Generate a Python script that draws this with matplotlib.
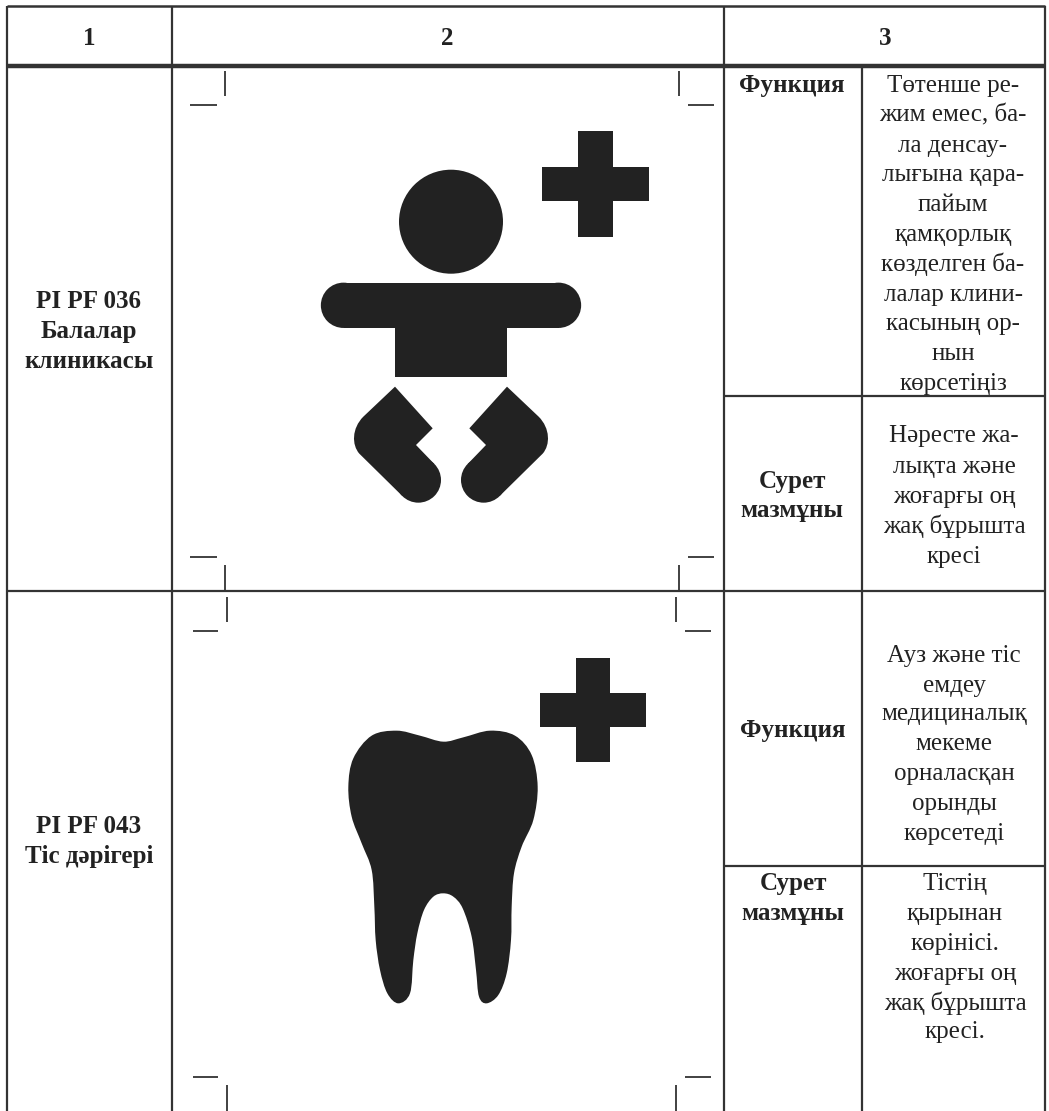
import numpy as np
from matplotlib import pyplot as plt
from matplotlib.path import Path
from matplotlib.patches import PathPatch, Circle, Rectangle

# --- Table text ---

headers = ["1", "2", "3"]
codes = [["PI PF 036", "Балалар", "клиникасы"], ["PI PF 043", "Тіс дәрігері"]]
function_label = "Функция"
content_label = ["Сурет", "мазмұны"]
function_text = [
    ["Төтенше ре-", "жим емес, ба-", "ла денсау-", "лығына қара-", "пайым", "қамқорлық",
     "көзделген ба-", "лалар клини-", "касының ор-", "нын", "көрсетіңіз"],
    ["Ауз және тіс", "емдеу", "медициналық", "мекеме", "орналасқан", "орынды", "көрсетеді"],
]
content_text = [
    ["Нәресте жа-", "лықта және", "жоғарғы оң", "жақ бұрышта", "кресі"],
    ["Тістің", "қырынан", "көрінісі.", "жоғарғы оң", "жақ бұрышта", "кресі."],
]

# --- Layout, in image pixels ---

INK = "#222222"
LINE = "#333333"
X_LEFT, X_COL2, X_COL3, X_COL4, X_RIGHT = 7, 172, 724, 862, 1045
Y_TOP, Y_HEAD, Y_ROW2, Y_BOTTOM = 6, 65.5, 591, 1111
Y_SPLIT1, Y_SPLIT2 = 396, 866
FS_BODY = 18

plt.rcParams['font.family'] = ['Liberation Serif', 'DejaVu Serif']

fig = plt.figure(figsize=(10.49, 11.11), dpi=100)
ax = fig.add_axes([0, 0, 1, 1])
ax.set_xlim(0, 1049)
ax.set_ylim(1111, 0)
ax.axis("off")


def hline(x0, x1, y, lw=1.6):
    ax.plot([x0, x1], [y, y], color=LINE, lw=lw, solid_capstyle="butt")


def vline(x, y0, y1, lw=1.6):
    ax.plot([x, x], [y0, y1], color=LINE, lw=lw, solid_capstyle="butt")


def put_lines(lines, x, baselines, bold=False):
    for line, y in zip(lines, baselines):
        ax.text(x, y, line, ha="center", va="baseline", fontsize=FS_BODY, color=INK,
                fontweight="bold" if bold else "normal")


def draw_cross(x0, x1, x2, x3, y0, y1, y2, y3):
    ax.add_patch(Rectangle((x1, y0), x2 - x1, y3 - y0, fc=INK, ec="none"))
    ax.add_patch(Rectangle((x0, y1), x3 - x0, y2 - y1, fc=INK, ec="none"))


def smooth_closed(points):
    # closed Catmull-Rom outline turned into bezier segments
    pts = np.array(points, dtype=float)
    n = len(pts)
    verts = [pts[0]]
    codes_ = [Path.MOVETO]
    for i in range(n):
        p0, p1, p2, p3 = pts[i - 1], pts[i], pts[(i + 1) % n], pts[(i + 2) % n]
        verts += [p1 + (p2 - p0) / 6, p2 - (p3 - p1) / 6, p2]
        codes_ += [Path.CURVE4, Path.CURVE4, Path.CURVE4]
    return Path(verts, codes_)


# --- Grid ---

hline(X_LEFT, X_RIGHT, Y_TOP, 1.8)
hline(X_LEFT, X_RIGHT, Y_HEAD, 3.2)
hline(X_LEFT, X_RIGHT, Y_ROW2)
hline(X_COL3, X_RIGHT, Y_SPLIT1)
hline(X_COL3, X_RIGHT, Y_SPLIT2)
for x in (X_LEFT, X_COL2, X_COL3, X_RIGHT):
    vline(x, Y_TOP, Y_BOTTOM)
vline(X_COL4, Y_HEAD, Y_BOTTOM)

# --- Crop marks ---

for x0, x1, y in [(190, 217, 105), (688, 714, 105), (190, 217, 557), (688, 714, 557),
                  (193, 218, 631), (685, 711, 631), (193, 218, 1077), (685, 711, 1077)]:
    hline(x0, x1, y, 1.3)
for x, y0, y1 in [(225, 71, 96), (679, 71, 96), (224.5, 565, 591), (679, 565, 591),
                  (227, 597, 622), (676, 597, 622), (227, 1085, 1111), (676, 1085, 1111)]:
    vline(x, y0, y1, 1.3)

# --- Text ---

for label, x in zip(headers, [89, 447, 885]):
    ax.text(x, 45, label, ha="center", va="baseline", fontsize=FS_BODY, color=INK, fontweight="bold")

put_lines(codes[0], 89, [308, 338, 368], bold=True)
put_lines(codes[1], 89, [833, 863], bold=True)

put_lines([function_label], 792, [92], bold=True)
put_lines(content_label, 792, [488, 517], bold=True)
put_lines([function_label], 793, [737], bold=True)
put_lines(content_label, 793, [890, 920], bold=True)

put_lines(function_text[0], 953, [92 + 29.8 * i for i in range(11)])
put_lines(content_text[0], 954, [442, 473, 503, 533, 563])
put_lines(function_text[1], 954, [662, 692, 720, 750, 780, 810, 840])
put_lines(content_text[1], 955, [890, 920, 950, 980, 1010, 1038])

# --- Baby icon ---

ax.add_patch(Circle((451, 221.7), 52, fc=INK, ec="none"))
ax.add_patch(Rectangle((343.5, 282.7), 215, 45.3, fc=INK, ec="none"))
ax.add_patch(Circle((343.5, 305.3), 22.65, fc=INK, ec="none"))
ax.add_patch(Circle((558.5, 305.3), 22.65, fc=INK, ec="none"))
ax.add_patch(Rectangle((394.7, 320), 112, 57.3, fc=INK, ec="none"))
draw_cross(542.3, 578.3, 613, 649, 131, 167, 201.3, 237)

foot_verts = [(285, 770), (398, 895), (348, 945), (403, 1002), (307, 1098), (178, 971),
              (155, 945), (155, 895), (190, 860), (285, 770)]
foot_codes = [Path.MOVETO, Path.LINETO, Path.LINETO, Path.LINETO, Path.LINETO, Path.LINETO,
              Path.CURVE4, Path.CURVE4, Path.CURVE4, Path.LINETO]
foot = np.array(foot_verts, dtype=float)
for mirror in (False, True):
    xs = 906 - foot[:, 0] if mirror else foot[:, 0]
    verts = np.column_stack([300 + xs / 3, 130 + foot[:, 1] / 3])
    ax.add_patch(PathPatch(Path(verts, foot_codes), fc=INK, ec="none"))
    cap_x = 906 - 355 if mirror else 355
    ax.add_patch(Circle((300 + cap_x / 3, 130 + 1050 / 3), 68 / 3, fc=INK, ec="none"))

# --- Tooth icon ---

tooth = np.array([
    (340, 305), (400, 292), (480, 272), (555, 287), (605, 345), (623, 440), (610, 540),
    (575, 620), (552, 700), (545, 800), (543, 900), (530, 1000), (505, 1065), (470, 1090),
    (447, 1070), (438, 990), (425, 890), (398, 805), (370, 770), (340, 760), (310, 770),
    (282, 810), (262, 880), (250, 960), (240, 1060), (205, 1090), (172, 1060), (150, 990),
    (137, 900), (133, 800), (125, 690), (95, 610), (65, 530), (55, 440), (70, 355),
    (125, 287), (200, 272), (270, 287)], dtype=float)
outline = np.column_stack([330 + tooth[:, 0] / 3, 640 + tooth[:, 1] / 3])
ax.add_patch(PathPatch(smooth_closed(outline), fc=INK, ec="none"))
draw_cross(540, 576, 610, 646, 658.3, 692.7, 727.3, 762.3)

fig.savefig("out.png", dpi=100)
